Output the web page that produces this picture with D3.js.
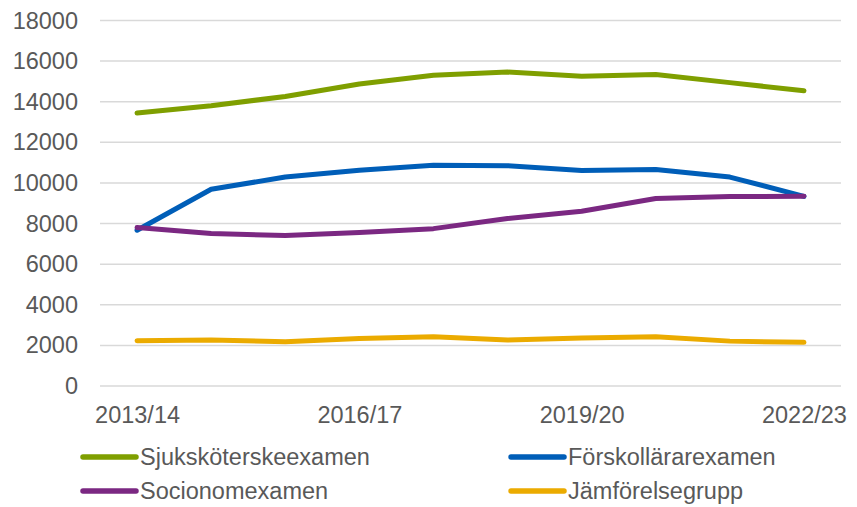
<!DOCTYPE html>
<html>
<head>
<meta charset="utf-8">
<script src="https://cdn.jsdelivr.net/npm/d3@7"></script>
<style>
  body { margin: 0; background: #fff; }
  svg { display: block; font-family: "Liberation Sans", Arial, sans-serif; }
  .grid line { stroke: #d9d9d9; stroke-width: 1.5; }
  .lbl { fill: #595959; font-size: 23.5px; }
</style>
</head>
<body>
<svg width="857" height="507"></svg>
<script>
// kategorier (läsår)
const years = ["2013/14", "2014/15", "2015/16", "2016/17", "2017/18",
               "2018/19", "2019/20", "2020/21", "2021/22", "2022/23"];
const shownYears = ["2013/14", "2016/17", "2019/20", "2022/23"];
const yTicks = [0, 2000, 4000, 6000, 8000, 10000, 12000, 14000, 16000, 18000];

// serier
const sjukskoterske = [13450, 13800, 14260, 14870, 15300, 15460, 15250, 15340, 14940, 14540];
const forskollarare = [7670, 9690, 10290, 10620, 10870, 10850, 10610, 10660, 10290, 9340];
const socionom      = [7800, 7510, 7410, 7560, 7750, 8250, 8610, 9230, 9330, 9345];
const jamforelse    = [2230, 2260, 2180, 2340, 2430, 2260, 2360, 2430, 2210, 2150];

const series = [
  { name: "Sjuksköterskeexamen", values: sjukskoterske, color: "#7f9f00" },
  { name: "Förskollärarexamen", values: forskollarare, color: "#005eb8" },
  { name: "Socionomexamen", values: socionom, color: "#7b2882" },
  { name: "Jämförelsegrupp", values: jamforelse, color: "#ebab00" }
];

const svg = d3.select("svg");
const plotLeft = 100, plotRight = 841, plotTop = 20.5, plotBottom = 386;

const x = d3.scalePoint().domain(years).range([plotLeft, plotRight]).padding(0.5);
const y = d3.scaleLinear().domain([0, 18000]).range([plotBottom, plotTop]);

// rutnät
svg.append("g").attr("class", "grid")
  .selectAll("line").data(yTicks).enter().append("line")
  .attr("x1", plotLeft).attr("x2", plotRight)
  .attr("y1", d => y(d)).attr("y2", d => y(d));

// y-axel
const yAxis = svg.append("g")
  .attr("transform", `translate(${plotLeft},0)`)
  .call(d3.axisLeft(y).tickValues(yTicks).tickSize(0).tickPadding(22).tickFormat(d3.format("d")));
yAxis.select(".domain").remove();
yAxis.selectAll("text").attr("class", "lbl").attr("fill", null).style("font-size", "23.5px");

// x-axel
const xAxis = svg.append("g")
  .attr("transform", `translate(0,${plotBottom})`)
  .call(d3.axisBottom(x).tickValues(shownYears).tickSize(0).tickPadding(20));
xAxis.select(".domain").remove();
xAxis.selectAll("text").attr("class", "lbl").attr("fill", null).style("font-size", "23.5px");
svg.selectAll("g").attr("font-family", null);

// linjer
const line = d3.line()
  .x((d, i) => x(years[i]))
  .y(d => y(d));

svg.selectAll(".serie").data(series).enter().append("path")
  .attr("class", "serie")
  .attr("fill", "none")
  .attr("stroke", d => d.color)
  .attr("stroke-width", 5)
  .attr("stroke-linejoin", "round")
  .attr("stroke-linecap", "round")
  .attr("d", d => line(d.values));

// förklaring
const legend = svg.selectAll(".leg").data(series).enter().append("g")
  .attr("class", "leg")
  .attr("transform", (d, i) => `translate(${i % 2 ? 511 : 83},${i < 2 ? 457 : 491})`);

legend.append("line")
  .attr("x1", 0).attr("x2", 53)
  .attr("stroke", d => d.color)
  .attr("stroke-width", 5.5)
  .attr("stroke-linecap", "round");

legend.append("text")
  .attr("class", "lbl")
  .attr("x", 57)
  .attr("dy", "0.35em")
  .text(d => d.name);
</script>
</body>
</html>
